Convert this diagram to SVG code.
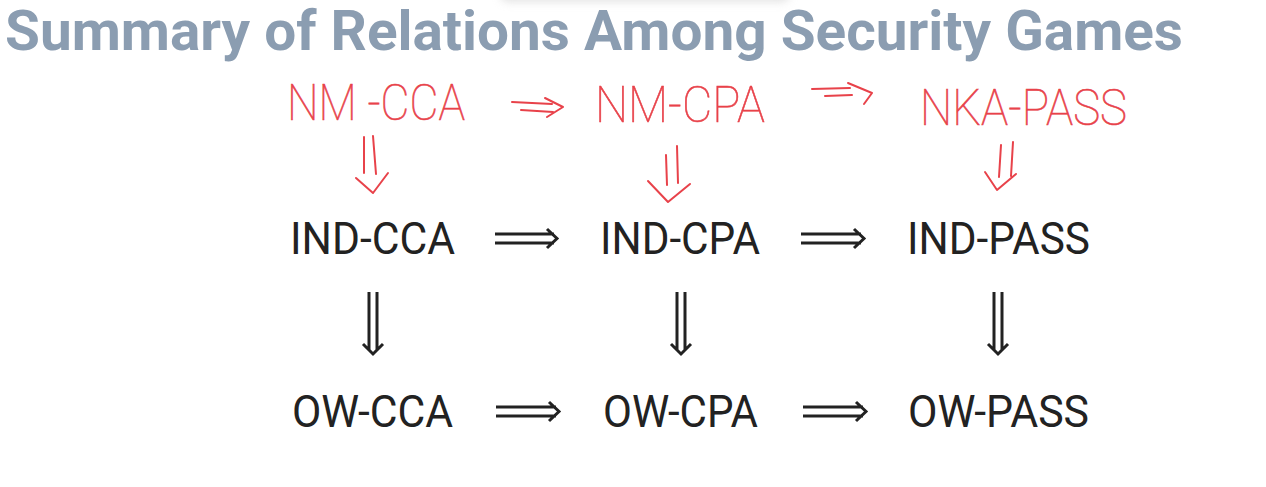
<svg xmlns="http://www.w3.org/2000/svg" width="1266" height="487" viewBox="0 0 1266 487">
  <defs>
    <filter id="blur" x="-20%" y="-200%" width="140%" height="500%">
      <feGaussianBlur stdDeviation="4"/>
    </filter>
    <style>
      .title { font-family: Roboto, "Liberation Sans", sans-serif; font-weight: 700; font-size: 56px; fill: #8b9db1; }
      .lbl { font-family: Roboto, "Liberation Sans", sans-serif; font-weight: 400; font-size: 44px; fill: #222222; text-anchor: middle; }
      .ink { font-family: Roboto, "Liberation Sans", sans-serif; font-weight: 100; font-size: 50px; fill: #e8424a; stroke: #e8424a; stroke-width: 0.6; }
      .arr { fill: none; stroke: #222222; stroke-width: 3; stroke-linecap: butt; stroke-linejoin: miter; }
      .inkarr { fill: none; stroke: #e8424a; stroke-width: 2; stroke-linecap: round; stroke-linejoin: round; }
    </style>
  </defs>
  <rect width="1266" height="487" fill="#ffffff"/>
  <rect x="500" y="-14" width="290" height="16" rx="8" fill="#c8c8c8" opacity="0.5" filter="url(#blur)"/>

  <text class="title" x="5" y="50" textLength="1178" lengthAdjust="spacingAndGlyphs">Summary of Relations Among Security Games</text>

  <!-- handwritten annotations -->
  <g id="ink-nm-cca"><text class="ink" x="287" y="120" textLength="178" lengthAdjust="spacingAndGlyphs">NM -CCA</text></g>
  <g id="ink-nm-cpa"><text class="ink" x="595" y="122" textLength="170" lengthAdjust="spacingAndGlyphs">NM-CPA</text></g>
  <g id="ink-nka-pass"><text class="ink" x="920" y="125" textLength="207" lengthAdjust="spacingAndGlyphs">NKA-PASS</text></g>

  <g id="ink-connectors">
    <path class="inkarr" d="M512 102 L552 104 M521 110 L553 112 M545 98 L563 107 L547 117"/>
    <path class="inkarr" d="M812 89 L850 88 M825 96 L852 95 M848 83 L872 93 L864 104"/>
    <path class="inkarr" d="M364 137 L364 173 M373 136 L376 174 M356 178 L373 193 L388 173"/>
    <path class="inkarr" d="M666 155 L667 185 M677 146 L678 183 M648 181 L668 202 L690 184"/>
    <path class="inkarr" d="M1001 145 L999 177 M1013 142 L1011 176 M985 172 L997 190 L1016 174"/>
  </g>

  <!-- nodes -->
  <g id="ind-cca"><text class="lbl" x="372.5" y="254" textLength="165" lengthAdjust="spacingAndGlyphs">IND-CCA</text></g>
  <g id="ind-cpa"><text class="lbl" x="680" y="254" textLength="160" lengthAdjust="spacingAndGlyphs">IND-CPA</text></g>
  <g id="ind-pass"><text class="lbl" x="998.5" y="254" textLength="183" lengthAdjust="spacingAndGlyphs">IND-PASS</text></g>
  <g id="ow-cca"><text class="lbl" x="372.5" y="427" textLength="161" lengthAdjust="spacingAndGlyphs">OW-CCA</text></g>
  <g id="ow-cpa"><text class="lbl" x="680.5" y="427" textLength="155" lengthAdjust="spacingAndGlyphs">OW-CPA</text></g>
  <g id="ow-pass"><text class="lbl" x="998.5" y="427" textLength="181" lengthAdjust="spacingAndGlyphs">OW-PASS</text></g>

  <!-- connectors -->
  <g id="connectors">
    <path class="arr" d="M495 234 L554 234 M495 243 L554 243 M547 229 L557 238.5 L547 248"/>
    <path class="arr" d="M801 234 L861 234 M801 243 L861 243 M854 229 L864 238.5 L854 248"/>
    <path class="arr" d="M496 407 L556 407 M496 416 L556 416 M549 402 L559 411.5 L549 421"/>
    <path class="arr" d="M803 407 L863 407 M803 416 L863 416 M856 402 L866 411.5 L856 421"/>
    <path class="arr" d="M369 292 L369 350 M377 292 L377 350 M363 344 L373 354 L383 344"/>
    <path class="arr" d="M677 292 L677 350 M685 292 L685 350 M671 344 L681 354 L691 344"/>
    <path class="arr" d="M994 292 L994 350 M1002 292 L1002 350 M988 344 L998 354 L1008 344"/>
  </g>
</svg>
